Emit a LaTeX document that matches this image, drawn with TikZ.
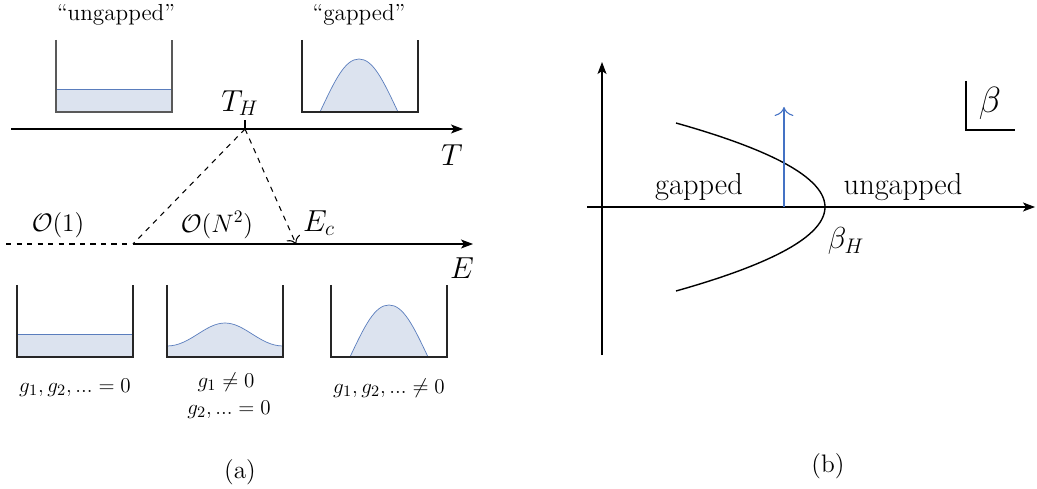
\documentclass[tikz,border=0pt]{standalone}
\usepackage{amsmath,amssymb}
\usepackage{tikz}
\usetikzlibrary{arrows.meta,positioning,calc}
\definecolor{wellfill}{HTML}{DCE3EF}
\definecolor{welledge}{HTML}{5A7DBD}
\definecolor{myblue}{HTML}{4472C4}
\tikzset{
  well/.style={draw=black!85, semithick},
  level/.style={draw=welledge, fill=wellfill, thin},
  axis/.style={-{Stealth[length=2.4mm, inset=0.6mm]}, semithick},
  dashline/.style={dashed, semithick},
  lab/.style={font=\LARGE, inner sep=1pt},
  glab/.style={font=\fontsize{13}{16}\selectfont, inner sep=1pt, align=center},
  caplab/.style={font=\fontsize{13.2}{16}\selectfont, inner sep=1pt},
  sublab/.style={font=\Large, inner sep=1pt},
}

\begin{document}
\begin{tikzpicture}[x=0.02cm, y=-0.02cm]
  \useasboundingbox (0,0) rectangle (1037,489);

  % (a) the two wells above the T axis
  \draw[level] (56,89) rectangle (172,112);
  \draw[well, draw=black!65] (56,40) |- (172,112) -- (172,40);
  \draw[level] (320,112) .. controls (335,80) and (345,59) .. (359,59)
               .. controls (373,59) and (383,80) .. (398,112) -- cycle;
  \draw[well] (302,40) |- (418,112) -- (418,40);
  \node[caplab] (ungcap) at (116,15) {``ungapped''};
  \node[caplab] (gapcap) at (359,15) {``gapped''};

  % T axis
  \coordinate (T0) at (11,129);
  \coordinate (T1) at (463,129);
  \coordinate (TH) at (245,129);
  \draw[axis] (T0) -- (T1);
  \draw[semithick] (TH) -- ++(0,-9);
  \node[lab] (THlab) at (240,103) {$T_H$};
  \node[lab] (Tlab) at (452,155) {$T$};

  % E axis
  \coordinate (E0) at (6,244);
  \coordinate (Egap) at (133,244);
  \coordinate (Ec) at (296,244);
  \coordinate (E1) at (473,244);
  \draw[dashline] (E0) -- (Egap);
  \draw[axis] (Egap) -- (E1);
  \draw[dashline] (TH) -- (Egap);
  \draw[dashline, -{To[length=1.4mm]}] (TH) -- (Ec);
  \node[lab, font=\Large] (O1) at (58,225) {$\mathcal{O}(1)$};
  \node[lab, font=\Large] (ON) at (217,225) {$\mathcal{O}(N^2)$};
  \node[lab] (Eclab) at (319,223) {$E_c$};
  \node[lab] (Elab) at (462,268) {$E$};

  % (a) the three wells below the E axis
  \draw[level] (17,334) rectangle (133,357);
  \draw[well] (17,285) |- (133,357) -- (133,285);
  \draw[level] (167,346) .. controls (190,346) and (205,323) .. (225,323)
               .. controls (245,323) and (260,346) .. (283,346) |- (167,357) -- cycle;
  \draw[well] (167,285) |- (283,357) -- (283,285);
  \draw[level] (350,357) .. controls (365,325) and (375,305) .. (389,305)
               .. controls (403,305) and (413,325) .. (428,357) -- cycle;
  \draw[well] (331,285) |- (447,357) -- (447,285);
  \node[glab] (g0) at (75,388) {$g_1, g_2, ... = 0$};
  \node[glab] (g1) at (226,382) {$g_1 \neq 0$};
  \node[glab] (g2) at (229,410) {$g_2, ... = 0$};
  \node[glab] (g3) at (389,388) {$g_1, g_2, ... \neq 0$};
  \node[sublab] (capa) at (240,472) {(a)};

  % (b) phase diagram
  \coordinate (V0) at (602,355);
  \coordinate (V1) at (602,62);
  \coordinate (H0) at (587,207);
  \coordinate (H1) at (1035,207);
  \coordinate (bH) at (825,207);
  \coordinate (up0) at (784,207);
  \coordinate (up1) at (784,107);
  \draw[axis] (V0) -- (V1);
  \draw[axis] (H0) -- (H1);
  \draw[thick] plot[domain=-84:84, samples=60, smooth] ({825-149*(\x/84)*(\x/84)}, {207+\x});
  \draw[myblue, semithick, -{To[length=1.8mm]}] (up0) -- (up1);
  \node[lab] (gapb) at (699,187) {gapped};
  \node[lab] (ungb) at (903,187) {ungapped};
  \node[lab] (bHlab) at (846,241) {$\beta_H$};
  \coordinate (bx0) at (966,81);
  \coordinate (bx1) at (1015,130);
  \draw[semithick] (bx0) |- (bx1);
  \node[lab, font=\huge] (beta) at (990,103) {$\beta$};
  \node[sublab] (capb) at (828,466) {(b)};
\end{tikzpicture}
\end{document}
